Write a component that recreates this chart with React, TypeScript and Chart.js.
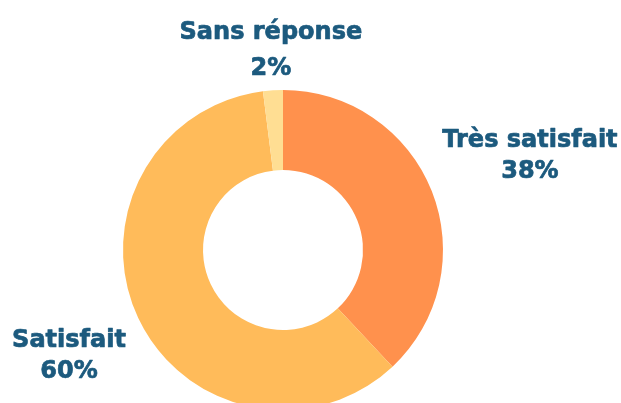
import React, { useEffect, useRef } from "react";
import { Chart, registerables } from "chart.js";

Chart.register(...registerables);

const categories = ["Très satisfait", "Satisfait", "Sans réponse"];
const values = [38, 60, 2];
const percentLabels = ["38%", "60%", "2%"];
const colors = ["#FF914D", "#FFBB5A", "#FFDE93"];

// label placement: radial distance from centre, extra vertical shift, line gap
const labelDistances = [265.6, 236.5, 193];
const labelShiftY = [10, 12, 0];
const labelGaps = [31, 31, 36];

const outerLabels = {
  id: "outerLabels",
  afterDatasetsDraw(chart: any) {
    const ctx = chart.ctx;
    const meta = chart.getDatasetMeta(0);
    ctx.save();
    ctx.fillStyle = "#1C5A7E";
    ctx.strokeStyle = "#1C5A7E";
    ctx.lineWidth = 0.7;
    ctx.lineJoin = "round";
    ctx.textAlign = "center";
    ctx.textBaseline = "alphabetic";
    ctx.font = "bold 24px 'DejaVu Sans'";
    meta.data.forEach((arc: any, i: number) => {
      const mid = (arc.startAngle + arc.endAngle) / 2;
      const d = labelDistances[i];
      const x = arc.x + Math.cos(mid) * d;
      const y = arc.y + Math.sin(mid) * d + labelShiftY[i];
      const g = labelGaps[i] / 2;
      ctx.fillText(categories[i], x, y - g);
      ctx.strokeText(categories[i], x, y - g);
      ctx.fillText(percentLabels[i], x, y + g);
      ctx.strokeText(percentLabels[i], x, y + g);
    });
    ctx.restore();
  },
};

export default function App() {
  const ref = useRef<HTMLCanvasElement>(null);
  useEffect(() => {
    document.body.style.margin = "0";
    const chart = new Chart(ref.current!, {
      type: "doughnut",
      data: {
        labels: categories,
        datasets: [
          {
            data: values,
            backgroundColor: colors,
            borderWidth: 0,
          },
        ],
      },
      options: {
        animation: false,
        responsive: false,
        cutout: "50%",
        layout: { padding: { top: 90, bottom: 90, left: 0, right: 55 } },
        plugins: { legend: { display: false }, tooltip: { enabled: false } },
      },
      plugins: [outerLabels],
    });
    return () => chart.destroy();
  }, []);
  return (
    <div style={{ width: 621, height: 403, overflow: "hidden", position: "relative", background: "#fff" }}>
      <canvas ref={ref} width={621} height={500} style={{ display: "block" }} />
    </div>
  );
}
